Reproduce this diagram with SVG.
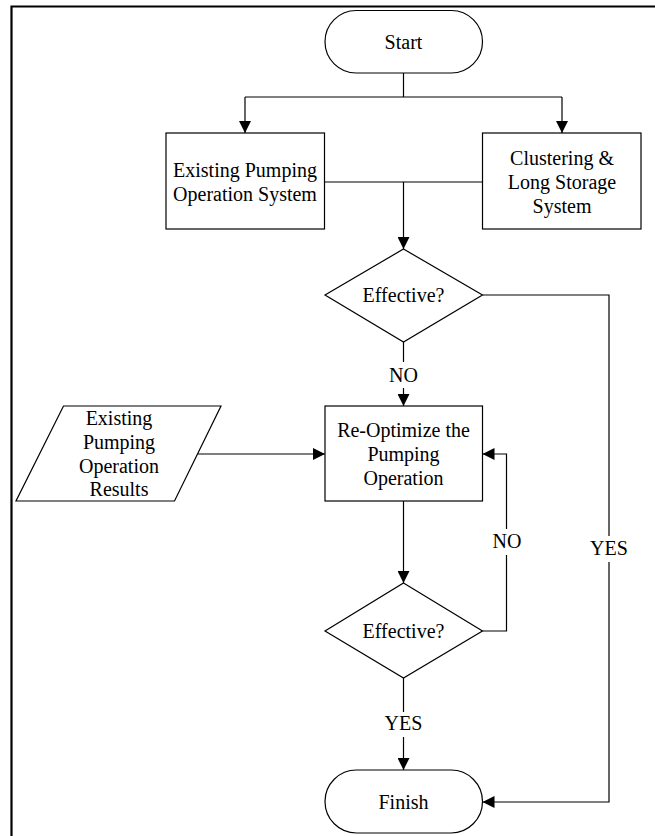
<svg xmlns="http://www.w3.org/2000/svg" width="655" height="836" viewBox="0 0 655 836">
<style>
.s{fill:#fff;stroke:#000;stroke-width:1.2}
.c{fill:none;stroke:#000;stroke-width:1.2}
text{font-family:'Liberation Serif','Times New Roman',Times,'DejaVu Serif',serif;font-size:20px;fill:#000;text-anchor:middle}
</style>
<defs>
<marker id="a" viewBox="0 0 12 12" refX="12" refY="6" markerWidth="12" markerHeight="12" markerUnits="userSpaceOnUse" orient="auto">
<path d="M0,0 L12,6 L0,12 Z" fill="#000"/>
</marker>
</defs>
<rect width="655" height="836" fill="#fff"/>
<path d="M11.5,836 V6.5 H655" fill="none" stroke="#000" stroke-width="2.2"/>
<g id="connectors">
<path class="c" d="M403.5,73 V97 M245,97 H562"/>
<path class="c" d="M245,97 V133" marker-end="url(#a)"/>
<path class="c" d="M562,97 V133" marker-end="url(#a)"/>
<path class="c" d="M324.5,182 H482.5"/>
<path class="c" d="M403.5,182 V249" marker-end="url(#a)"/>
<path class="c" d="M403.5,342 V362"/>
<path class="c" d="M403.5,388 V406" marker-end="url(#a)"/>
<path class="c" d="M482.5,295 H609 V536"/>
<path class="c" d="M609,562 V802 H482.5" marker-end="url(#a)"/>
<path class="c" d="M198,454 H325" marker-end="url(#a)"/>
<path class="c" d="M403.5,501 V583" marker-end="url(#a)"/>
<path class="c" d="M482.5,631 H506.5 V555"/>
<path class="c" d="M506.5,529 V454 H482.5" marker-end="url(#a)"/>
<path class="c" d="M403.5,678 V712"/>
<path class="c" d="M403.5,737 V770" marker-end="url(#a)"/>
<text x="403.5" y="382">NO</text>
<text x="507" y="548">NO</text>
<text x="609" y="555">YES</text>
<text x="403.5" y="730">YES</text>
</g>
<g id="start">
<rect class="s" x="325" y="10.5" width="157.5" height="62.5" rx="31.25"/>
<text x="403.5" y="49">Start</text>
</g>
<g id="existing">
<rect class="s" x="166" y="133" width="158.5" height="96"/>
<text x="245" y="177">Existing Pumping</text>
<text x="245" y="201">Operation System</text>
</g>
<g id="clustering">
<rect class="s" x="482.5" y="133" width="158.5" height="96"/>
<text x="562" y="165">Clustering &amp;</text>
<text x="562" y="189">Long Storage</text>
<text x="562" y="213">System</text>
</g>
<g id="decision1">
<polygon class="s" points="403.5,249 482.5,295 403.5,342 325,295"/>
<text x="403.5" y="302">Effective?</text>
</g>
<g id="results">
<polygon class="s" points="63.5,406 221,406 174.5,501 16,501"/>
<text x="119" y="425">Existing</text>
<text x="119" y="449">Pumping</text>
<text x="119" y="473">Operation</text>
<text x="119" y="496">Results</text>
</g>
<g id="reoptimize">
<rect class="s" x="325" y="406" width="157.5" height="95"/>
<text x="403.5" y="437">Re-Optimize the</text>
<text x="403.5" y="461">Pumping</text>
<text x="403.5" y="485">Operation</text>
</g>
<g id="decision2">
<polygon class="s" points="403.5,583 482.5,631 403.5,678 325,631"/>
<text x="403.5" y="638">Effective?</text>
</g>
<g id="finish">
<rect class="s" x="325" y="770" width="157.5" height="63" rx="31.5"/>
<text x="403.5" y="809">Finish</text>
</g>
</svg>
